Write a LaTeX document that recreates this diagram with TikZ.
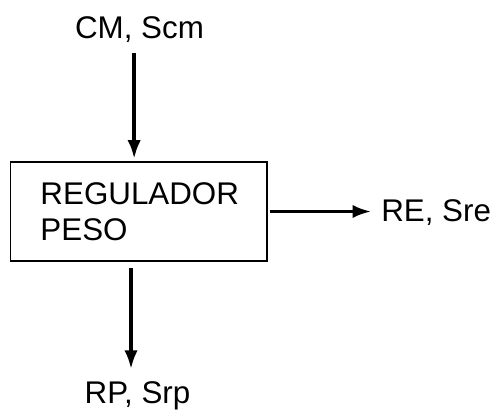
\documentclass[tikz,border=0pt]{standalone}
\usepackage{fontspec}
\setmainfont{Liberation Sans}
\usetikzlibrary{arrows.meta,positioning}

\begin{document}
\begin{tikzpicture}[x=0.75pt, y=-0.75pt,
    every node/.style={font=\fontsize{23.5}{27}\selectfont},
    block/.style={rectangle, draw, line width=0.8pt, minimum height=74.25pt, text width=147.4pt, inner xsep=22.5pt, align=left},
    flow/.style={line width=2.6pt, -{Latex[length=14pt,width=10pt]}}]
    \useasboundingbox (0,0) rectangle (494,411);

    \node[block] (reg) at (138.75,211.5) {REGULADOR\\PESO};
    \node[anchor=base] (cm) at (139.5,38) {CM, Scm};
    \node[anchor=base west] (re) at (376.6,221) {RE, Sre};
    \node[anchor=base] (rp) at (137.5,403) {RP, Srp};

    \draw[flow, shorten <=5pt, shorten >=2pt] ([xshift=-4pt]cm.south) -- ([xshift=-4pt]cm.south |- reg.north);
    \draw[flow, shorten <=1.5pt, shorten >=4pt] (reg.east) -- (reg.east -| re.west);
    \draw[flow, shorten <=5pt, shorten >=5.5pt] ([xshift=-5.8pt]reg.south) -- ([xshift=-5.8pt]reg.south |- rp.north);
\end{tikzpicture}
\end{document}
